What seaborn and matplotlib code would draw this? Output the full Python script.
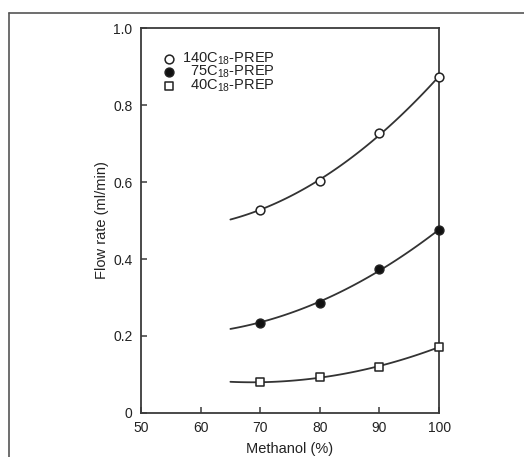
import matplotlib
import matplotlib.pyplot as plt
import numpy as np
import pandas as pd
import seaborn as sns
from matplotlib.lines import Line2D

matplotlib.use('Agg')

# measured points
methanol = [70, 80, 90, 100]
flow_140 = [0.527, 0.603, 0.727, 0.873]
flow_75 = [0.234, 0.287, 0.374, 0.475]
flow_40 = [0.081, 0.093, 0.120, 0.172]

# fitted curves start at 65 % in the original
curve_x = [65, 70, 80, 90, 100]
curve_140 = [0.504, 0.527, 0.603, 0.727, 0.873]
curve_75 = [0.220, 0.234, 0.287, 0.374, 0.475]
curve_40 = [0.080, 0.081, 0.093, 0.120, 0.172]

labels = ['140C$_{18}$-PREP', '\u200775C$_{18}$-PREP', '\u200740C$_{18}$-PREP']

points = pd.DataFrame({
    'methanol': methanol * 3,
    'flow': flow_140 + flow_75 + flow_40,
    'column': [labels[0]] * 4 + [labels[1]] * 4 + [labels[2]] * 4,
})
curves = {labels[0]: curve_140, labels[1]: curve_75, labels[2]: curve_40}

sns.set_style('ticks', {'xtick.direction': 'in', 'ytick.direction': 'in',
                        'axes.edgecolor': '#3a3a3a'})
plt.rcParams['font.family'] = ['Liberation Sans', 'DejaVu Sans']
plt.rcParams['mathtext.fontset'] = 'custom'
plt.rcParams['mathtext.rm'] = 'Liberation Sans'
plt.rcParams['mathtext.it'] = 'Liberation Sans'

fig = plt.figure(figsize=(5.24, 4.57), dpi=100)
ax = fig.add_axes([0.269, 0.0963, 0.569, 0.8424])

line_col = '#333333'
for lab in labels:
    sns.regplot(x=curve_x, y=curves[lab], order=2, ci=None, scatter=False,
                truncate=True, ax=ax, color=line_col, line_kws={'lw': 1.3})

styles = {
    labels[0]: dict(marker='o', facecolor='white', s=40),
    labels[1]: dict(marker='o', facecolor='#111111', s=40),
    labels[2]: dict(marker='s', facecolor='white', s=32),
}
for lab in labels:
    sub = points[points['column'] == lab]
    st = styles[lab]
    sns.scatterplot(data=sub, x='methanol', y='flow', ax=ax, marker=st['marker'],
                    s=st['s'], facecolor=st['facecolor'], edgecolor='#222222',
                    linewidth=1.1, label=lab, zorder=5, clip_on=False)

ax.set_xlim(50, 100)
ax.set_ylim(0, 1.0)
ax.set_xticks([50, 60, 70, 80, 90, 100])
ax.set_yticks([0, 0.2, 0.4, 0.6, 0.8, 1.0])
ax.set_yticklabels(['0', '0.2', '0.4', '0.6', '0.8', '1.0'])
ax.tick_params(length=4, width=1.1, colors='#3a3a3a', labelsize=10,
               labelcolor='#222222')
ax.tick_params(axis='x', pad=5.5)
ax.tick_params(axis='y', pad=6)
for s in ax.spines.values():
    s.set_linewidth(1.3)
ax.set_xlabel('Methanol (%)', fontsize=10.5, color='#222222', labelpad=5)
ax.set_ylabel('Flow rate (ml/min)', fontsize=10.5, color='#222222', labelpad=3)

leg = ax.legend(loc='upper left', bbox_to_anchor=(0.0435, 0.957), frameon=False,
                fontsize=10.5, handletextpad=0.3, labelspacing=-0.2,
                handlelength=1.2, borderaxespad=0)
for t in leg.get_texts():
    t.set_color('#222222')

# outer frame (top and left edges only)
fig.add_artist(Line2D([9 / 524, 1.0], [1 - 13 / 457, 1 - 13 / 457],
                      transform=fig.transFigure, color='#555555', lw=1.2))
fig.add_artist(Line2D([9 / 524, 9 / 524], [0, 1 - 13 / 457],
                      transform=fig.transFigure, color='#555555', lw=1.2))

fig.savefig('out.png', dpi=100)
